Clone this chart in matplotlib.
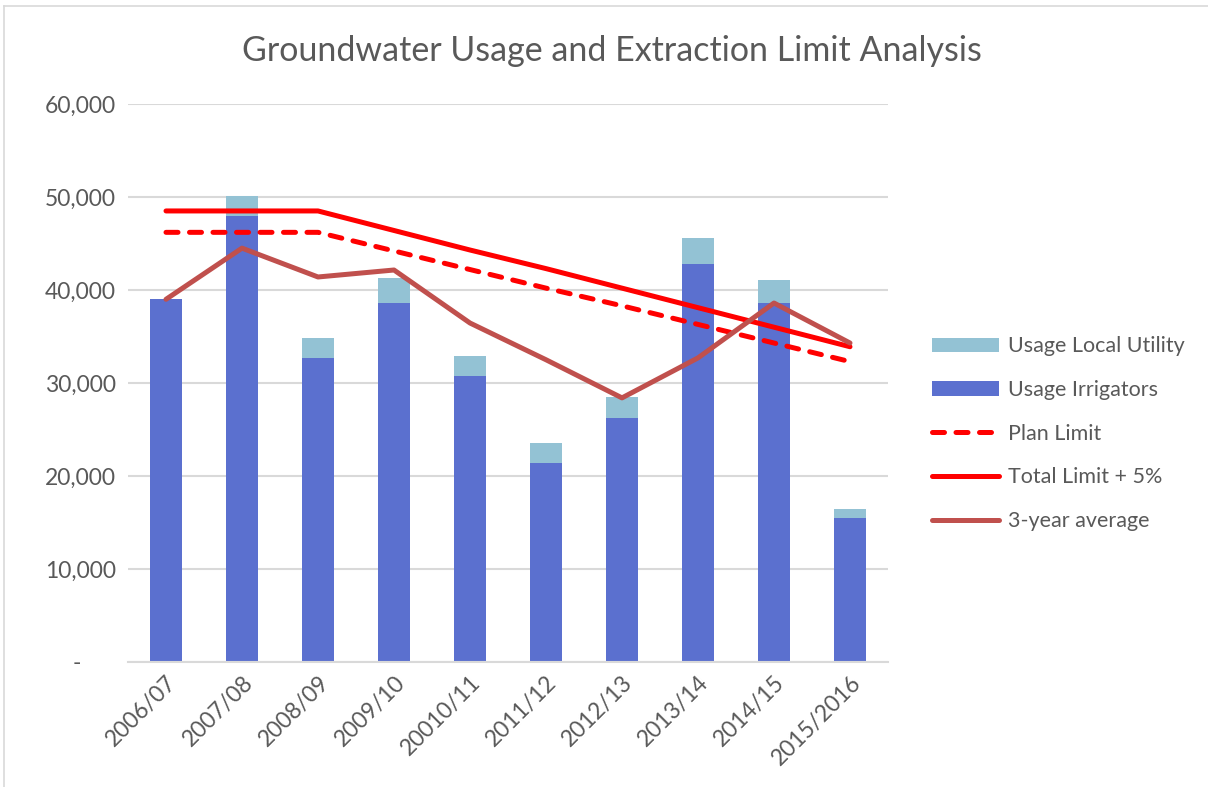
import numpy as np
import matplotlib
matplotlib.use("Agg")
import matplotlib.pyplot as plt
import matplotlib.ticker as ticker
from matplotlib.lines import Line2D

plt.rcParams['font.family'] = ['Lato', 'DejaVu Sans']

# データ
seasons = ['2006/07', '2007/08', '2008/09', '2009/10', '20010/11',
           '2011/12', '2012/13', '2013/14', '2014/15', '2015/2016']
usage_irrigators = [39000, 48000, 32700, 38600, 30700, 21400, 26200, 42800, 38600, 15500]
usage_utility = [0, 2100, 2150, 2700, 2200, 2100, 2300, 2800, 2500, 950]
plan_limit = [46200, 46200, 46200, 44200, 42200, 40200, 38300, 36300, 34300, 32300]
total_limit = [48500, 48500, 48500, 46400, 44300, 42300, 40200, 38100, 36000, 33900]
avg_3yr = [39000, 44500, 41400, 42150, 36450, 32500, 28400, 32700, 38600, 34300]

# 色
c_irr = '#5B70CF'
c_util = '#93C2D4'
c_red = '#FF0000'
c_avg = '#C0504D'
c_text = '#595959'
c_grid = '#D9D9D9'

W, H = 1208, 787
fig = plt.figure(figsize=(W / 100, H / 100), dpi=100)
ax = fig.add_axes([128 / W, 1 - 662 / H, 760 / W, 558 / H])

x = np.arange(len(seasons))
ax.bar(x, usage_irrigators, width=0.41, color=c_irr, label='Usage Irrigators', zorder=2)
ax.bar(x, usage_utility, width=0.41, bottom=usage_irrigators, color=c_util,
       label='Usage Local Utility', zorder=2)

ax.plot(x, plan_limit, color=c_red, lw=3.6, dashes=(2.4, 2.3),
        dash_capstyle='round', label='Plan Limit', zorder=3)
ax.plot(x, total_limit, color=c_red, lw=3.6, solid_capstyle='round',
        label='Total Limit + 5%', zorder=4)
ax.plot(x, avg_3yr, color=c_avg, lw=3.6, solid_capstyle='round',
        label='3-year average', zorder=5)

# 範囲
ax.set_xlim(-0.5, len(seasons) - 0.5)
ax.set_ylim(0, 60000)

# 目盛り
ax.yaxis.set_major_locator(ticker.MultipleLocator(10000))
ax.yaxis.set_major_formatter(ticker.FuncFormatter(
    lambda v, p: '-      ' if v == 0 else f'{v:,.0f}'))
ax.tick_params(axis='y', length=0, pad=8.5, labelsize=16.5, labelcolor=c_text)
ax.tick_params(axis='x', length=0, pad=7, labelsize=16.5, labelcolor=c_text)
ax.set_xticks(x)
ax.set_xticklabels(seasons, rotation=45, ha='right', va='top', rotation_mode='anchor')

ax.grid(axis='y', color=c_grid, lw=1.5, zorder=0)
ax.set_axisbelow(True)
for s in ['top', 'right', 'left']:
    ax.spines[s].set_visible(False)
ax.spines['bottom'].set_color(c_grid)
ax.spines['bottom'].set_linewidth(1.5)

# タイトル
fig.text(612 / W, 1 - 51 / H, 'Groundwater Usage and Extraction Limit Analysis',
         ha='center', va='center', fontsize=24.5, color=c_text)

# 凡例
handles, labels = ax.get_legend_handles_labels()
order = ['Usage Local Utility', 'Usage Irrigators', 'Plan Limit',
         'Total Limit + 5%', '3-year average']
hmap = dict(zip(labels, handles))
leg = fig.legend([hmap[k] for k in order], order, loc='upper left',
                 bbox_to_anchor=(913 / W, 1 - 317 / H), frameon=False,
                 fontsize=15.5, labelcolor=c_text, handlelength=3.1,
                 handleheight=0.65, handletextpad=0.4, labelspacing=1.1)

# 外枠
fig.add_artist(Line2D([4 / W, 4 / W], [0, 1 - 6 / H], color=c_grid, lw=1.2))
fig.add_artist(Line2D([4 / W, 1], [1 - 6 / H, 1 - 6 / H], color=c_grid, lw=1.2))

fig.savefig('out.png', dpi=100)
